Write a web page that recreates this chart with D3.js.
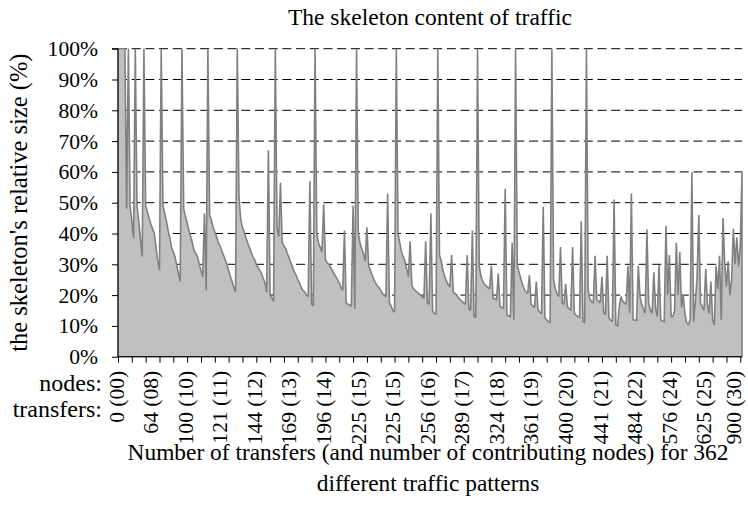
<!DOCTYPE html>
<html>
<head>
<meta charset="utf-8">
<script src="https://cdn.jsdelivr.net/npm/d3@7"></script>
<style>
  body { margin: 0; background: #fff; }
  svg { display: block; }
  text { font-family: "Liberation Serif", "Times New Roman", serif; fill: #000; }
</style>
</head>
<body>
<svg id="chart" width="748" height="519"></svg>
<script>
// Skeleton size relative to the full traffic, in %, for each of the 362 traffic patterns
const skeletonPct = [
  100,100,100,100,100,48,100,49,44,38.5,
  100,49,44,38,32.5,100,49,47,45,43,
  41.5,40,35.5,31,28,100,49,46.5,44,41,
  38.5,35.5,34,32.5,29.5,27,24.5,100,48,45.5,
  43.5,41,39,37,34.5,33.5,32.5,30,28,26,
  46.5,21.5,100,46,44.5,42,40.5,39,37,36,
  34.5,33,31.5,30,28,26,24.5,22.5,21,100,
  52,44.5,42,40.5,38.5,37,35.5,34,32.5,31.5,
  30,29,28,27,25.5,24,21,67,20,19,
  18,100,42,39,56.5,37,36,35,33.5,32,
  30.5,29,27.5,26.5,25,24,22.5,21.5,21,20,
  19.5,57,17,16.5,100,40,37,35.5,34,49.5,
  31.5,30.5,30,29,28,27,26,25,24,22.5,
  21.5,41,17.5,17,16.8,16.5,49,15.5,100,40,
  37,35,33.5,31,42,29.5,28,26.5,25,24,
  23,22.5,21.5,20.5,20,19.5,53,17.5,16.5,15,
  14.5,100,40,37,34,32.5,31,28.5,26,37.5,
  23,22,21.5,21,20.5,20,19.5,19,37.5,17.5,
  17,46.5,15,14,13.8,100,33,31,28,26,
  24.5,23.5,22.5,33,21,20.5,20,19,18.5,18,
  17.5,17,33,15.5,15,41,13,12.8,100,29.5,
  26,24.5,23.5,23,22.5,22,29.5,19,18.8,18.5,
  27,16.3,16,15.8,54.5,13.6,13.3,13,37,12,
  100,29.5,27.5,25.5,23.5,22,21,20.5,26.5,17,
  16.5,16,24.4,15.2,14.5,14,48.7,12.5,12,11.4,
  11,100,25,22,20.5,19.5,35.6,17.4,17,23.7,
  16.3,15.5,15.2,35.6,14.1,13.5,13,12.8,44,11.4,
  11,100,21.7,18.5,17.9,17.5,32.8,18.5,18,17.5,
  26,14.1,13.8,32.8,12.5,11.9,11.4,51,10.3,10,
  16.3,19.5,18,17.4,17,29.5,14.1,53,12,11.9,
  11.8,29.5,19.5,17,15.5,14.1,41.3,17.4,15.2,14.1,
  27.4,15.7,13,29.8,11.9,11.6,11.4,42.5,20,33,
  13,13,15,37,20,34,16,20,14,11,
  10.5,12,60,11.4,18,25.5,46,17.4,16.3,15,
  28.5,17,14,24.4,12,10.3,29.5,22,32.8,12,
  45,30.4,22.8,31,20,25,41.5,30,38.8,29.3,
  35.8,60
];

// Category labels, shown on every 20th pattern
const labelEvery = 20;
const transferLabels = ["0","64","100","121","144","169","196","225","225","256","289","324","361","400","441","484","576","625","900"];
const nodeLabels = ["00","08","10","11","12","13","14","15","15","16","17","18","19","20","21","22","24","25","30"];
const tickEvery = 8;
const yTicks = [0,10,20,30,40,50,60,70,80,90,100];

const chartTitle = "The skeleton content of traffic";
const yTitle = "the skeleton's relative size (%)";
const xTitleLines = ["Number of transfers (and number of contributing nodes) for 362", "different traffic patterns"];

const svg = d3.select("#chart");
const plot = { left: 118, right: 742, top: 48.7, bottom: 356.7 };

const idx = d3.range(skeletonPct.length);
const x = d3.scalePoint().domain(idx).range([plot.left, plot.right]);
const y = d3.scaleLinear().domain([0, 100]).range([plot.bottom, plot.top]);

// dashed horizontal gridlines (behind the area)
svg.append("g")
  .selectAll("line")
  .data(yTicks.filter(d => d > 0))
  .join("line")
  .attr("x1", plot.left).attr("x2", plot.right)
  .attr("y1", d => y(d)).attr("y2", d => y(d))
  .attr("stroke", "#000")
  .attr("stroke-width", 1)
  .attr("stroke-dasharray", "9,4.7");

// filled area with its outline
const area = d3.area()
  .x((d, i) => x(i))
  .y0(y(0))
  .y1(d => y(d));

svg.append("path")
  .datum(skeletonPct)
  .attr("d", area)
  .attr("fill", "#c0c0c0")
  .attr("stroke", "#808080")
  .attr("stroke-width", 1.6)
  .attr("stroke-linejoin", "miter")
  .attr("stroke-miterlimit", 2);

// y axis
const yAxis = svg.append("g")
  .attr("transform", `translate(${plot.left},0)`)
  .call(d3.axisLeft(y).tickValues(yTicks).tickFormat(d => d + "%").tickSize(6).tickPadding(14));
yAxis.attr("font-family", null);
yAxis.select(".domain").attr("stroke", "#000").attr("d", `M-6,${y(100)}H0V${y(0)}`);
yAxis.selectAll("text").style("font-size", "21.6px");

// x axis: tick marks every 8 patterns
const xAxis = svg.append("g")
  .attr("transform", `translate(0,${plot.bottom})`)
  .call(d3.axisBottom(x).tickValues(idx.filter(i => i % tickEvery === 0)).tickFormat("").tickSize(6));
xAxis.select(".domain").attr("d", `M${plot.left},0H${plot.right}`).attr("stroke", "#000");

// rotated category labels "transfers (nodes)"
svg.append("g")
  .selectAll("text")
  .data(transferLabels.map((t, k) => ({ i: k * labelEvery, t, n: nodeLabels[k] })))
  .join("text")
  .attr("transform", d => `translate(${Math.min(x(d.i) - 1.5, 734)},${plot.bottom + 14}) rotate(-90)`)
  .attr("text-anchor", "end")
  .attr("dy", "0.33em")
  .style("font-size", "21.6px")
  .text(d => `${d.t} (${d.n})`);

svg.append("text")
  .attr("x", 102).attr("y", 391)
  .attr("text-anchor", "end")
  .style("font-size", "24px")
  .text("nodes:");
svg.append("text")
  .attr("x", 102).attr("y", 417)
  .attr("text-anchor", "end")
  .style("font-size", "24px")
  .text("transfers:");

// titles
svg.append("text")
  .attr("x", (plot.left + plot.right) / 2).attr("y", 25)
  .attr("text-anchor", "middle")
  .style("font-size", "23.5px")
  .text(chartTitle);

svg.append("text")
  .attr("transform", `translate(27,${(plot.top + plot.bottom) / 2}) rotate(-90)`)
  .attr("text-anchor", "middle")
  .style("font-size", "24.5px")
  .text(yTitle);

svg.append("g")
  .selectAll("text")
  .data(xTitleLines)
  .join("text")
  .attr("x", 428)
  .attr("y", (d, k) => 460 + k * 31)
  .attr("text-anchor", "middle")
  .style("font-size", "23.4px")
  .text(d => d);
</script>
</body>
</html>
